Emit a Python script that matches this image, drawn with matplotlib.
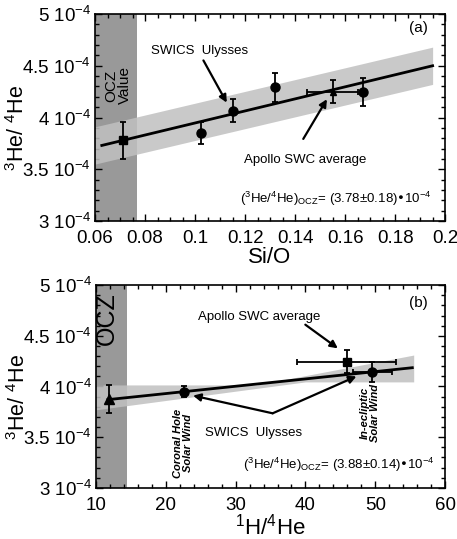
import matplotlib.pyplot as plt
import numpy as np
from matplotlib.ticker import MultipleLocator

plt.rcParams['font.family'] = ['Liberation Sans', 'DejaVu Sans']
plt.rcParams['mathtext.default'] = 'regular'

# 3He/4He values are given in units of 1e-4

# ---- panel (a): vs Si/O ----
a_swics_x = [0.1024, 0.115, 0.132, 0.1671]
a_swics_y = [3.85, 4.066, 4.29, 4.25]
a_swics_yerr = [0.105, 0.11, 0.14, 0.135]
a_ocz_x = [0.071]
a_ocz_y = [3.78]
a_ocz_yerr = [0.18]
a_apollo_x = [0.155]
a_apollo_y = [4.25]
a_apollo_xerr = [0.0102]
a_apollo_yerr = [0.11]
a_fit_x = [0.0627, 0.195]
a_fit_y = [3.73, 4.50]
a_band_x = [0.06, 0.195]
a_band_lo = [3.55, 4.32]
a_band_hi = [3.91, 4.68]
a_ocz_span = [0.06, 0.0767]

# ---- panel (b): vs 1H/4He ----
b_swics_x = [22.65, 49.6]
b_swics_y = [3.95, 4.14]
b_swics_xerr = [0, 2.85]
b_swics_yerr = [0.055, 0.10]
b_ocz_x = [11.8]
b_ocz_y = [3.875]
b_ocz_yerr = [0.14]
b_apollo_x = [45.9]
b_apollo_y = [4.245]
b_apollo_xerr = [7.1]
b_apollo_yerr = [0.115]
b_fit_x = [11.7, 55.3]
b_fit_y = [3.87, 4.185]
b_band_x = [10, 33, 40, 55.5]
b_band_lo = [3.77, 3.981, 4.045, 4.045]
b_band_hi = [4.015, 4.015, 4.107, 4.31]
b_ocz_span = [10, 14.4]

y_ticks = [3, 3.5, 4, 4.5, 5]
y_ticklabels = ['3 10$^{-4}$', '3.5 10$^{-4}$', '4 10$^{-4}$', '4.5 10$^{-4}$', '5 10$^{-4}$']
a_xticks = [0.06, 0.08, 0.1, 0.12, 0.14, 0.16, 0.18, 0.2]
a_xticklabels = ['0.06', '0.08', '0.1', '0.12', '0.14', '0.16', '0.18', '0.2']
b_xticks = [10, 20, 30, 40, 50, 60]

ocz_col = '#999999'
band_col = '#c0c0c0'

fig = plt.figure(figsize=(4.57, 5.39), dpi=100)
ax1 = fig.add_axes([0.208, 0.590, 0.766, 0.384])
ax2 = fig.add_axes([0.210, 0.095, 0.764, 0.376])


def style_axes(ax):
    ax.set_ylim(3, 5)
    ax.set_yticks(y_ticks)
    ax.set_yticklabels(y_ticklabels)
    ax.yaxis.set_minor_locator(MultipleLocator(0.1))
    ax.tick_params(which='both', direction='in', top=True, right=True, labelsize=13.5)
    ax.tick_params(which='major', length=5, width=1)
    ax.tick_params(which='minor', length=3, width=1)
    ax.tick_params(axis='x', pad=6.5)
    ax.tick_params(axis='y', pad=3)
    for s in ax.spines.values():
        s.set_linewidth(1.2)
    ax.set_ylabel('$^3$He/ $^4$He', fontsize=15.5)
    ax.yaxis.set_label_coords(-0.19, 0.45)


ebar = dict(fmt='none', ecolor='black', elinewidth=1.3, capsize=2.5, capthick=1.3, zorder=4)

# ---------- (a) ----------
ax = ax1
ax.axvspan(a_ocz_span[0], a_ocz_span[1], color=ocz_col, lw=0, zorder=1)
ax.fill_between(a_band_x, a_band_lo, a_band_hi, color=band_col, alpha=0.85, lw=0, zorder=2)
ax.plot(a_fit_x, a_fit_y, color='black', lw=2, zorder=3)
ax.errorbar(a_swics_x, a_swics_y, yerr=a_swics_yerr, **ebar)
ax.plot(a_swics_x, a_swics_y, 'o', color='black', ms=6.5, zorder=5)
ax.errorbar(a_ocz_x, a_ocz_y, yerr=a_ocz_yerr, **ebar)
ax.plot(a_ocz_x, a_ocz_y, 's', color='black', ms=6, zorder=5)
ax.errorbar(a_apollo_x, a_apollo_y, xerr=a_apollo_xerr, yerr=a_apollo_yerr, **ebar)
ax.plot(a_apollo_x, a_apollo_y, '^', color='black', ms=5, zorder=5)
ax.set_xlim(0.06, 0.2)
ax.set_xticks(a_xticks)
ax.set_xticklabels(a_xticklabels)
ax.xaxis.set_minor_locator(MultipleLocator(0.005))
style_axes(ax)
ax.set_xlabel('Si/O', fontsize=16, labelpad=0)

ax.text(0.0692, 4.31, 'OCZ\nValue', rotation=90, ha='center', va='center', fontsize=11, linespacing=0.95)
ax.text(0.951, 0.932, '(a)', transform=ax.transAxes, ha='right', va='center', fontsize=11)
ax.text(0.1016, 4.645, 'SWICS  Ulysses', ha='center', va='center', fontsize=9.5)
ax.annotate('', xy=(0.1132, 4.12), xytext=(0.1028, 4.575),
            arrowprops=dict(arrowstyle='-|>', color='black', lw=1.6, mutation_scale=11))
ax.text(0.144, 3.59, 'Apollo SWC average', ha='center', va='center', fontsize=9.5)
ax.annotate('', xy=(0.1533, 4.2), xytext=(0.1427, 3.77),
            arrowprops=dict(arrowstyle='-|>', color='black', lw=1.6, mutation_scale=11))
ax.text(0.963, 0.105, '($^3$He/$^4$He)$_{OCZ}$= (3.78±0.18)•10$^{-4}$', transform=ax.transAxes,
        ha='right', va='center', fontsize=9.5)

# ---------- (b) ----------
ax = ax2
ax.axvspan(b_ocz_span[0], b_ocz_span[1], color=ocz_col, lw=0, zorder=1)
ax.fill_between(b_band_x, b_band_lo, b_band_hi, color=band_col, alpha=0.85, lw=0, zorder=2)
ax.plot(b_fit_x, b_fit_y, color='black', lw=2, zorder=3)
ax.errorbar(b_swics_x, b_swics_y, xerr=b_swics_xerr, yerr=b_swics_yerr, **ebar)
ax.plot(b_swics_x, b_swics_y, 'o', color='black', ms=6.5, zorder=5)
ax.errorbar(b_ocz_x, b_ocz_y, yerr=b_ocz_yerr, **ebar)
ax.plot(b_ocz_x, b_ocz_y, '^', color='black', ms=7, zorder=5)
ax.errorbar(b_apollo_x, b_apollo_y, xerr=b_apollo_xerr, yerr=b_apollo_yerr, **ebar)
ax.plot(b_apollo_x, b_apollo_y, 's', color='black', ms=6, zorder=5)
ax.set_xlim(10, 60)
ax.set_xticks(b_xticks)
ax.xaxis.set_minor_locator(MultipleLocator(2))
style_axes(ax)
ax.set_xlabel('$^1$H/$^4$He', fontsize=16, labelpad=0)

ax.text(11.6, 4.67, 'OCZ', rotation=90, ha='center', va='center', fontsize=18)
ax.text(0.951, 0.911, '(b)', transform=ax.transAxes, ha='right', va='center', fontsize=11)
ax.text(33.4, 4.69, 'Apollo SWC average', ha='center', va='center', fontsize=9.5)
ax.annotate('', xy=(44.96, 4.36), xytext=(39.66, 4.626),
            arrowprops=dict(arrowstyle='-|>', color='black', lw=1.6, mutation_scale=11))
ax.text(32.6, 3.54, 'SWICS  Ulysses', ha='center', va='center', fontsize=9.5)
for tip in [(23.9, 3.91), (47.3, 4.10)]:
    ax.annotate('', xy=tip, xytext=(35.3, 3.735),
                arrowprops=dict(arrowstyle='-|>', color='black', lw=1.6, mutation_scale=11,
                                shrinkA=0, shrinkB=0))
ax.text(22.5, 3.44, 'Coronal Hole\nSolar Wind', rotation=90, ha='center', va='center',
        fontsize=8, fontweight='bold', style='italic', linespacing=0.95)
ax.text(49.25, 3.74, 'In-ecliptic\nSolar Wind', rotation=90, ha='center', va='center',
        fontsize=8, fontweight='bold', style='italic', linespacing=0.95)
ax.text(0.971, 0.113, '($^3$He/$^4$He)$_{OCZ}$= (3.88±0.14)•10$^{-4}$', transform=ax.transAxes,
        ha='right', va='center', fontsize=9.5)

fig.savefig('out.png', dpi=100)
